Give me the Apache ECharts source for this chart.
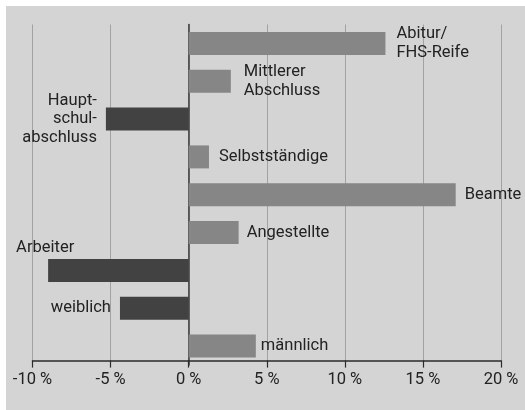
<!DOCTYPE html>
<html>
<head>
<meta charset="utf-8">
<script src="https://cdn.jsdelivr.net/npm/echarts@6/dist/echarts.min.js"></script>
<style>
  html, body { margin: 0; padding: 0; background: #ffffff; }
  #chart { width: 525px; height: 410px; }
</style>
</head>
<body>
<div id="chart"></div>
<script>
// Categories, top to bottom, with their line-broken labels
const categories = ['Abitur/FHS-Reife', 'Mittlerer Abschluss', 'Hauptschulabschluss',
  'Selbstständige', 'Beamte', 'Angestellte', 'Arbeiter', 'weiblich', 'männlich'];
const labelTexts = ['Abitur/\nFHS-Reife', 'Mittlerer\nAbschluss', 'Haupt-\nschul-\nabschluss',
  'Selbstständige', 'Beamte', 'Angestellte', 'Arbeiter', 'weiblich', 'männlich'];
// Difference in percentage points
const values = [12.6, 2.7, -5.3, 1.3, 17.1, 3.2, -9.0, -4.4, 4.3];
// x-axis ticks
const xTicks = [-10, -5, 0, 5, 10, 15, 20];

const FONT = 'Roboto, sans-serif';
const POS_COLOR = '#868686';
const NEG_COLOR = '#424242';
const TEXT_COLOR = '#222222';

// Per-bar label placement
const labelCfg = [
  { position: 'right', distance: 11 },
  { position: 'right', distance: 13 },
  { position: 'left', distance: 9, align: 'right' },
  { position: 'right', distance: 10 },
  { position: 'right', distance: 9 },
  { position: 'right', distance: 8 },
  { position: 'left', distance: 0, align: 'left', offset: [-32, -23] },
  { position: 'left', distance: 9 },
  { position: 'right', distance: 5 }
];

const data = values.map((v, i) => ({
  value: v,
  name: categories[i],
  itemStyle: { color: v < 0 ? NEG_COLOR : POS_COLOR },
  label: Object.assign({
    show: true,
    formatter: labelTexts[i],
    fontFamily: FONT,
    fontSize: 16.5,
    lineHeight: 18.5,
    color: TEXT_COLOR
  }, labelCfg[i])
}));

const chart = echarts.init(document.getElementById('chart'), null, { renderer: 'canvas' });
chart.setOption({
  animation: false,
  backgroundColor: 'transparent',
  graphic: [{
    type: 'rect', z: -10, silent: true,
    shape: { x: 6, y: 6, width: 519, height: 404 },
    style: { fill: '#d4d4d4' }
  }],
  grid: { left: 32.5, right: 24, top: 24.5, bottom: 45, containLabel: false },
  xAxis: {
    type: 'value',
    min: xTicks[0], max: xTicks[xTicks.length - 1], interval: 5,
    offset: -4.4,
    axisLine: { show: true, onZero: false, lineStyle: { color: '#2a2a2a', width: 1.5 } },
    axisTick: { show: true, length: 7, lineStyle: { color: '#2a2a2a', width: 1.2 } },
    axisLabel: {
      margin: 11, fontFamily: FONT, fontSize: 16.5, color: TEXT_COLOR,
      formatter: v => v + ' %'
    },
    splitLine: { show: true, lineStyle: { color: '#a2a2a2', width: 1 } }
  },
  yAxis: {
    type: 'category',
    inverse: true,
    data: categories,
    axisLine: { show: true, onZero: true, lineStyle: { color: '#3a3a3a', width: 1.5 } },
    axisTick: { show: false },
    axisLabel: { show: false },
    splitLine: { show: false }
  },
  series: [{
    type: 'bar',
    barWidth: 23,
    data: data
  }]
});
</script>
</body>
</html>
